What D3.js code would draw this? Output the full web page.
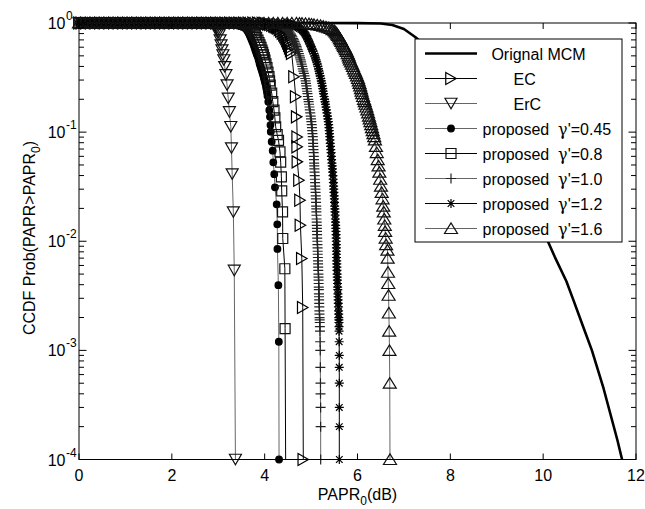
<!DOCTYPE html>
<html><head><meta charset="utf-8">
<script src="https://cdn.jsdelivr.net/npm/d3@7"></script>
<style>
body{margin:0;background:#fff}
svg{display:block}
text{font-family:"Liberation Sans",Arial,sans-serif;fill:#000}
</style>
</head><body>
<svg id="chart" width="645" height="509"></svg>
<script>
// ---------------- data ----------------
const xTickValues = [0, 2, 4, 6, 8, 10, 12];
const xTickLabels = ["0", "2", "4", "6", "8", "10", "12"];
const yTickValues = [1e-4, 1e-3, 1e-2, 1e-1, 1];
const yTickExponents = ["-4", "-3", "-2", "-1", "0"];
const legendLabels = ["  Orignal MCM", "       EC", "       ErC",
  "proposed  γ'=0.45", "proposed  γ'=0.8", "proposed  γ'=1.0",
  "proposed  γ'=1.2", "proposed  γ'=1.6"];

const origMCM = [[0,1],[5,1],[6,0.998],[6.5,0.99],[6.75,0.96],[7,0.88],[7.25,0.74],[7.5,0.6],[7.75,0.48],[8,0.37],[8.25,0.27],[8.5,0.19],[8.75,0.13],[9,0.087],[9.25,0.055],[9.5,0.034],[9.75,0.021],[10,0.0125],[10.25,0.0072],[10.5,0.0043],[10.65,0.0029],[10.85,0.0017],[11.05,0.001],[11.3,0.00045],[11.6,0.00015],[11.7,0.0001]];

const ecCurve = [[0,1],[0.05,1],[0.15,1],[0.25,1],[0.35,1],[0.45,1],[0.55,1],[0.65,1],[0.75,1],[0.85,1],[0.95,1],[1.05,1],[1.15,1],[1.25,1],[1.35,1],[1.45,1],[1.55,1],[1.65,1],[1.75,1],[1.85,1],[1.95,1],[2.05,1],[2.15,1],[2.25,1],[2.35,1],[2.45,1],[2.55,1],[2.65,1],[2.75,1],[2.85,1],[2.95,1],[3.05,1],[3.15,1],[3.25,1],[3.35,1],[3.45,1],[3.55,1],[3.65,1],[3.75,1],[3.85,1],
  [3.95,0.995],[3.99,0.99],[4.03,0.985],[4.072,0.977],[4.115,0.969],[4.158,0.955],[4.2,0.94],[4.225,0.93],[4.25,0.92],[4.268,0.91],[4.287,0.9],[4.318,0.87],[4.35,0.84],[4.383,0.808],[4.416,0.776],[4.438,0.748],[4.46,0.72],[4.48,0.687],[4.5,0.655],[4.52,0.622],[4.54,0.59],[4.561,0.558],[4.582,0.527],
  [4.632,0.322],[4.668,0.211],[4.69,0.138],[4.7,0.0904],[4.7,0.0733],[4.705,0.0534],[4.739,0.0363],[4.761,0.0238],[4.77,0.014],[4.8,0.00694],[4.82,0.00247],[4.832,0.0001]];

const ercCurve = [[0,1],[0.1,1],[0.2,1],[0.3,1],[0.4,1],[0.5,1],[0.6,1],[0.7,1],[0.8,1],[0.9,1],[1,1],[1.1,1],[1.2,1],[1.3,1],[1.4,1],[1.5,1],[1.6,1],[1.7,1],[1.8,1],[1.9,1],[2,1],[2.1,1],[2.2,1],[2.3,1],[2.4,1],[2.5,1],[2.6,1],[2.7,1],[2.8,1],
  [2.85,0.995],[2.875,0.99],[2.9,0.98],[2.925,0.958],[2.95,0.93],[2.97,0.898],[2.99,0.863],[3.003,0.82],[3.016,0.776],[3.04,0.698],[3.06,0.628],[3.08,0.565],[3.1,0.509],[3.12,0.458],[3.14,0.397],[3.165,0.334],[3.19,0.27],[3.215,0.204],[3.24,0.153],[3.27,0.112],
  [3.285,0.0713],[3.3,0.0412],[3.325,0.0185],[3.345,0.0054],[3.37,0.0001]];

const prop045 = [[0,1],[0.025,1],[0.125,1],[0.225,1],[0.325,1],[0.425,1],[0.525,1],[0.625,1],[0.725,1],[0.825,1],[0.925,1],[1.025,1],[1.125,1],[1.225,1],[1.325,1],[1.425,1],[1.525,1],[1.625,1],[1.725,1],[1.825,1],[1.925,1],[2.025,1],[2.125,1],[2.225,1],[2.325,1],[2.425,1],[2.525,1],[2.625,1],[2.725,1],[2.825,1],[2.925,1],[3.025,1],[3.125,1],[3.225,1],[3.325,1],
  [3.36,0.998],[3.392,0.995],[3.425,0.99],[3.447,0.98],[3.47,0.97],[3.49,0.96],[3.51,0.95],[3.532,0.935],[3.555,0.92],[3.578,0.905],[3.6,0.89],[3.62,0.86],[3.64,0.83],[3.662,0.795],[3.684,0.76],[3.7,0.735],[3.715,0.71],[3.731,0.682],[3.748,0.655],[3.764,0.627],[3.78,0.6],[3.796,0.57],[3.813,0.542],[3.831,0.515],[3.85,0.49],[3.869,0.46],[3.888,0.43],[3.901,0.412],[3.915,0.395],[3.928,0.379],[3.942,0.363],[3.956,0.346],[3.97,0.33],[3.983,0.315],[3.996,0.3],[4.008,0.287],[4.02,0.275],[4.03,0.262],[4.039,0.249],[4.05,0.232],[4.06,0.215],
  [4.078,0.19],[4.1,0.159],[4.115,0.138],[4.125,0.116],[4.132,0.101],[4.151,0.0816],[4.173,0.0676],[4.186,0.0529],[4.207,0.0412],[4.222,0.0312],[4.259,0.0218],[4.272,0.0143],[4.275,0.0085],[4.295,0.00396],[4.305,0.0012],[4.31,0.0001]];

const prop08 = [[0,1],[0.075,1],[0.175,1],[0.275,1],[0.375,1],[0.475,1],[0.575,1],[0.675,1],[0.775,1],[0.875,1],[0.975,1],[1.075,1],[1.175,1],[1.275,1],[1.375,1],[1.475,1],[1.575,1],[1.675,1],[1.775,1],[1.875,1],[1.975,1],[2.075,1],[2.175,1],[2.275,1],[2.375,1],[2.475,1],[2.575,1],[2.675,1],[2.775,1],[2.875,1],[2.975,1],[3.075,1],[3.175,1],[3.275,1],[3.375,1],
  [3.435,0.997],[3.47,0.99],[3.51,0.98],[3.55,0.97],[3.595,0.955],[3.64,0.94],[3.67,0.92],[3.7,0.9],[3.725,0.872],[3.75,0.845],[3.775,0.812],[3.8,0.78],[3.828,0.738],[3.856,0.698],[3.878,0.663],[3.9,0.63],[3.921,0.597],[3.942,0.565],[3.958,0.537],[3.975,0.51],[3.991,0.483],[4.007,0.458],[4.028,0.423],[4.05,0.39],[4.071,0.355],[4.093,0.322],[4.106,0.295],[4.12,0.27],
  [4.151,0.228],[4.175,0.19],[4.201,0.159],[4.22,0.135],[4.237,0.112],[4.27,0.095],[4.298,0.084],[4.33,0.0659],[4.345,0.0531],[4.36,0.0389],[4.367,0.0289],[4.385,0.0186],[4.39,0.0106],[4.435,0.0056],[4.44,0.00158],[4.455,0.00005]];

const prop10 = [[0,1],[0.035,1],[0.135,1],[0.235,1],[0.335,1],[0.435,1],[0.535,1],[0.635,1],[0.735,1],[0.835,1],[0.935,1],[1.035,1],[1.135,1],[1.235,1],[1.335,1],[1.435,1],[1.535,1],[1.635,1],[1.735,1],[1.835,1],[1.935,1],[2.035,1],[2.135,1],[2.235,1],[2.335,1],[2.435,1],[2.535,1],[2.635,1],[2.735,1],[2.835,1],[2.935,1],[3.035,1],[3.135,1],[3.235,1],[3.335,1],[3.435,1],[3.535,1],[3.635,1],[3.735,1],[3.835,1],[3.935,1],[4.035,1],
  [4.14,0.998],[4.179,0.995],[4.211,0.99],[4.244,0.985],[4.271,0.978],[4.298,0.97],[4.325,0.96],[4.352,0.95],[4.384,0.935],[4.416,0.92],[4.441,0.905],[4.466,0.89],[4.49,0.87],[4.513,0.85],[4.532,0.83],[4.55,0.81],[4.565,0.79],[4.58,0.77],[4.597,0.745],[4.614,0.72],[4.628,0.7],[4.642,0.68],[4.659,0.655],[4.675,0.63],[4.686,0.61],[4.696,0.59],[4.709,0.57],[4.722,0.55],[4.736,0.525],[4.75,0.5],[4.762,0.48],[4.774,0.46],[4.785,0.44],[4.796,0.42],[4.809,0.4],[4.821,0.38],[4.833,0.362],[4.845,0.345],[4.859,0.327],[4.873,0.31],[4.882,0.295],[4.89,0.28],[4.899,0.265],[4.907,0.25],[4.915,0.237],[4.922,0.225],[4.931,0.212],[4.94,0.2],[4.948,0.19],[4.955,0.18],[4.964,0.17],[4.972,0.16],[4.982,0.15],[4.991,0.14],[4.999,0.132],[5.006,0.125],[5.013,0.117],[5.019,0.11],[5.025,0.103],[5.03,0.097],[5.036,0.091],
  [5.041,0.085],[5.044,0.079],[5.047,0.074],[5.051,0.069],[5.055,0.065],[5.059,0.06],[5.062,0.056],[5.066,0.052],[5.069,0.049],[5.072,0.046],[5.075,0.043],[5.079,0.04],[5.083,0.037],[5.087,0.0345],[5.09,0.032],[5.094,0.03],[5.097,0.028],[5.1,0.026],[5.103,0.0245],[5.107,0.0227],[5.11,0.021],[5.112,0.0198],[5.114,0.0186],[5.116,0.0173],[5.118,0.016],[5.121,0.015],[5.123,0.014],[5.125,0.0131],[5.127,0.0123],[5.13,0.0115],[5.132,0.0107],[5.135,0.01],[5.137,0.0093],[5.14,0.0087],[5.142,0.0081],[5.144,0.0076],[5.146,0.0071],[5.149,0.0066],[5.151,0.0062],[5.153,0.0058],[5.155,0.0054],[5.158,0.005],[5.16,0.0047],[5.162,0.0044],[5.163,0.0041],[5.165,0.0038],[5.167,0.0036],[5.169,0.0033],[5.171,0.0031],[5.173,0.0029],[5.175,0.0027],[5.177,0.0025],[5.179,0.0023],[5.181,0.00215],[5.183,0.002],[5.185,0.0019],[5.187,0.0018],[5.19,0.00165],[5.192,0.0015],
  [5.195,0.0012],[5.198,0.001],[5.2,0.0007],[5.202,0.0005],[5.203,0.0004],[5.205,0.0003],[5.206,0.0002],[5.207,0.0001]];

const prop12 = [[0,1],[0.065,1],[0.165,1],[0.265,1],[0.365,1],[0.465,1],[0.565,1],[0.665,1],[0.765,1],[0.865,1],[0.965,1],[1.065,1],[1.165,1],[1.265,1],[1.365,1],[1.465,1],[1.565,1],[1.665,1],[1.765,1],[1.865,1],[1.965,1],[2.065,1],[2.165,1],[2.265,1],[2.365,1],[2.465,1],[2.565,1],[2.665,1],[2.765,1],[2.865,1],[2.965,1],[3.065,1],[3.165,1],[3.265,1],[3.365,1],[3.465,1],[3.565,1],[3.665,1],[3.765,1],[3.865,1],[3.965,1],[4.065,1],[4.165,1],[4.265,1],[4.365,1],
  [4.43,0.998],[4.459,0.995],[4.492,0.99],[4.524,0.985],[4.551,0.978],[4.578,0.97],[4.605,0.96],[4.632,0.95],[4.664,0.935],[4.696,0.92],[4.723,0.905],[4.75,0.89],[4.783,0.87],[4.815,0.85],[4.837,0.83],[4.858,0.81],[4.874,0.79],[4.89,0.77],[4.906,0.745],[4.922,0.72],[4.936,0.7],[4.95,0.68],[4.967,0.655],[4.983,0.63],[4.997,0.61],[5.011,0.59],[5.026,0.57],[5.041,0.55],[5.061,0.525],[5.08,0.5],[5.093,0.48],[5.106,0.46],[5.12,0.44],[5.134,0.42],[5.147,0.4],[5.16,0.38],[5.171,0.362],[5.181,0.345],[5.195,0.327],[5.209,0.31],[5.22,0.295],[5.231,0.28],[5.242,0.265],[5.252,0.25],[5.261,0.237],[5.269,0.225],[5.28,0.212],[5.291,0.2],[5.301,0.19],[5.31,0.18],[5.32,0.17],[5.33,0.16],[5.342,0.15],[5.353,0.14],[5.362,0.132],[5.371,0.125],[5.379,0.117],[5.386,0.11],[5.391,0.103],[5.396,0.097],[5.402,0.091],
  [5.407,0.085],[5.413,0.079],[5.418,0.074],[5.425,0.069],[5.431,0.065],[5.437,0.06],[5.442,0.056],[5.449,0.052],[5.455,0.049],[5.46,0.046],[5.465,0.043],[5.471,0.04],[5.476,0.037],[5.481,0.0345],[5.485,0.032],[5.489,0.03],[5.493,0.028],[5.498,0.026],[5.502,0.0245],[5.505,0.0227],[5.508,0.021],[5.512,0.0198],[5.515,0.0186],[5.519,0.0173],[5.523,0.016],[5.527,0.015],[5.53,0.014],[5.533,0.0131],[5.536,0.0123],[5.539,0.0115],[5.541,0.0107],[5.543,0.01],[5.544,0.0093],[5.546,0.0087],[5.547,0.0081],[5.548,0.0076],[5.549,0.0071],[5.552,0.0066],[5.554,0.0062],[5.556,0.0058],[5.558,0.0054],[5.561,0.005],[5.564,0.0047],[5.567,0.0044],[5.569,0.0041],[5.572,0.0038],[5.575,0.0036],[5.578,0.0033],[5.58,0.0031],[5.583,0.0029],[5.586,0.0027],[5.589,0.0025],[5.592,0.0023],[5.595,0.00215],[5.597,0.002],[5.599,0.0019],[5.601,0.0018],[5.602,0.00165],[5.603,0.0015],
  [5.605,0.0012],[5.607,0.0009],[5.607,0.0007],[5.608,0.0005],[5.608,0.0003],[5.608,0.0002],[5.608,0.0001]];

const prop16 = [[0,1],[0.085,1],[0.185,1],[0.285,1],[0.385,1],[0.485,1],[0.585,1],[0.685,1],[0.785,1],[0.885,1],[0.985,1],[1.085,1],[1.185,1],[1.285,1],[1.385,1],[1.485,1],[1.585,1],[1.685,1],[1.785,1],[1.885,1],[1.985,1],[2.085,1],[2.185,1],[2.285,1],[2.385,1],[2.485,1],[2.585,1],[2.685,1],[2.785,1],[2.885,1],[2.985,1],[3.085,1],[3.185,1],[3.285,1],[3.385,1],[3.485,1],[3.585,1],[3.685,1],[3.785,1],[3.885,1],[3.985,1],[4.085,1],[4.185,1],[4.285,1],[4.385,1],[4.485,1],[4.585,1],[4.685,1],
  [4.75,0.998],[4.804,0.995],[4.88,0.99],[4.955,0.985],[5.009,0.978],[5.062,0.97],[5.133,0.96],[5.203,0.95],[5.262,0.935],[5.321,0.92],[5.37,0.905],[5.418,0.89],[5.461,0.87],[5.504,0.85],[5.526,0.83],[5.547,0.81],[5.564,0.79],[5.58,0.77],[5.602,0.745],[5.623,0.72],[5.639,0.7],[5.655,0.68],[5.675,0.655],[5.694,0.63],[5.712,0.61],[5.73,0.59],[5.749,0.57],[5.767,0.55],[5.789,0.525],[5.81,0.5],[5.824,0.48],[5.838,0.46],[5.86,0.44],[5.881,0.42],[5.903,0.4],[5.924,0.38],[5.946,0.362],[5.967,0.345],[5.989,0.327],[6.01,0.31],[6.027,0.295],[6.043,0.28],[6.059,0.265],[6.075,0.25],[6.088,0.237],[6.101,0.225],[6.121,0.212],[6.14,0.2],[6.156,0.19],[6.172,0.18],[6.192,0.17],[6.211,0.16],[6.229,0.15],[6.247,0.14],[6.263,0.132],[6.279,0.125],[6.296,0.117],[6.312,0.11],[6.328,0.103],[6.344,0.097],[6.36,0.091],
  [6.376,0.085],[6.398,0.074],[6.415,0.065],[6.435,0.056],[6.454,0.049],[6.471,0.043],[6.489,0.037],[6.506,0.032],[6.521,0.028],[6.54,0.0245],[6.555,0.021],[6.566,0.0186],[6.577,0.016],[6.588,0.014],[6.596,0.0123],[6.607,0.0107],[6.616,0.0093],
  [6.645,0.0083],[6.65,0.007],[6.657,0.0052],[6.663,0.0041],[6.67,0.0032],[6.676,0.0022],[6.683,0.0015],[6.689,0.001],[6.695,0.0005],[6.7,0.0001]];

// ---------------- rendering ----------------
const svg = d3.select("#chart");
const mLeft = 79, mRight = 636, mTop = 23, mBottom = 459.5;
const x = d3.scaleLinear().domain([0, 12]).range([mLeft, mRight]);
const y = d3.scaleLog().domain([1e-4, 1]).range([mBottom, mTop]);

const GRAY = "#666", DARK = "#111";
const series = [
  {data: origMCM, line: "#000", width: 2.6, marker: null},
  {data: ecCurve, line: "#000", width: 1, marker: "triR", mcol: "#000"},
  {data: ercCurve, line: GRAY, width: 1, marker: "triD", mcol: DARK},
  {data: prop045, line: GRAY, width: 1, marker: "dot", mcol: "#000"},
  {data: prop08, line: "#000", width: 1, marker: "square", mcol: "#111"},
  {data: prop10, line: GRAY, width: 1, marker: "plus", mcol: "#222"},
  {data: prop12, line: "#000", width: 1, marker: "star", mcol: "#000"},
  {data: prop16, line: GRAY, width: 1, marker: "triU", mcol: DARK}
];

function markerPath(t) {
  const a = 6, h = 10.5;
  switch (t) {
    case "triR": return `M${-h/2},${-a}L${h/2},0L${-h/2},${a}Z`;
    case "triD": return `M${-a},${-h/2}L${a},${-h/2}L0,${h/2}Z`;
    case "triU": return `M${-6.5},${5}L${6.5},${5}L0,${-5.5}Z`;
    case "square": return "M-5,-5H5V5H-5Z";
    case "plus": return "M-5,0H5M0,-5V5";
    case "star": return "M-4.5,0H4.5M0,-4.5V4.5M-3.3,-3.3L3.3,3.3M-3.3,3.3L3.3,-3.3";
    case "dot": return "M-3.3,0A3.3,3.3 0 1,0 3.3,0A3.3,3.3 0 1,0 -3.3,0Z";
  }
}
function drawMarker(g, t, col) {
  g.append("path").attr("d", markerPath(t))
    .attr("fill", t === "dot" ? col : "none")
    .attr("stroke", col).attr("stroke-width", 1.2);
}

svg.append("defs").append("clipPath").attr("id", "plotclip")
  .append("rect").attr("x", mLeft).attr("y", mTop - 3)
  .attr("width", mRight - mLeft).attr("height", mBottom - mTop + 3);

const lineGen = d3.line().x(d => x(d[0])).y(d => y(d[1]));
const plot = svg.append("g");

series.forEach(s => {
  plot.append("path").datum(s.data).attr("d", lineGen)
    .attr("fill", "none").attr("stroke", s.line).attr("stroke-width", s.width)
    .attr("stroke-linejoin", "round")
    .attr("clip-path", "url(#plotclip)");
  if (s.marker) {
    const mg = plot.append("g");
    s.data.filter(d => d[1] >= 1e-4).forEach(d => {
      const g = mg.append("g").attr("transform", `translate(${x(d[0])},${y(d[1])})`);
      drawMarker(g, s.marker, s.mcol);
    });
  }
});

// axes box
svg.append("rect").attr("x", mLeft).attr("y", mTop)
  .attr("width", mRight - mLeft).attr("height", mBottom - mTop)
  .attr("fill", "none").attr("stroke", "#000").attr("stroke-width", 1);

// x ticks (inward, bottom and top) + labels
xTickValues.forEach((v, i) => {
  const px = x(v);
  svg.append("line").attr("x1", px).attr("x2", px).attr("y1", mBottom).attr("y2", mBottom - 6)
    .attr("stroke", "#000");
  svg.append("line").attr("x1", px).attr("x2", px).attr("y1", mTop).attr("y2", mTop + 6)
    .attr("stroke", "#000");
  svg.append("text").attr("x", px).attr("y", 481).attr("text-anchor", "middle")
    .attr("font-size", 16).text(xTickLabels[i]);
});

// y ticks: decades (major) and minor 2..9
yTickValues.forEach((v, i) => {
  const py = y(v);
  [[mLeft, mLeft + 7.5], [mRight, mRight - 7.5]].forEach(([a, b]) =>
    svg.append("line").attr("x1", a).attr("x2", b).attr("y1", py).attr("y2", py).attr("stroke", "#000"));
  svg.append("text").attr("x", 65.5).attr("y", py + 6).attr("text-anchor", "end")
    .attr("font-size", 16).text("10");
  svg.append("text").attr("x", 66).attr("y", py - 3).attr("font-size", 12).text(yTickExponents[i]);
  if (i < yTickValues.length - 1) {
    for (let k = 2; k <= 9; k++) {
      const pm = y(v * k);
      [[mLeft, mLeft + 5], [mRight, mRight - 5]].forEach(([a, b]) =>
        svg.append("line").attr("x1", a).attr("x2", b).attr("y1", pm).attr("y2", pm).attr("stroke", "#000"));
    }
  }
});

// axis titles
const xl = svg.append("text").attr("x", (mLeft + mRight) / 2).attr("y", 500)
  .attr("text-anchor", "middle").attr("font-size", 16);
xl.append("tspan").text("PAPR");
xl.append("tspan").attr("font-size", 12).attr("dy", 5).text("0");
xl.append("tspan").attr("dy", -5).text("(dB)");

const yl = svg.append("text").attr("transform", "translate(35,238) rotate(-90)")
  .attr("text-anchor", "middle").attr("font-size", 16);
yl.append("tspan").text("CCDF Prob(PAPR>PAPR");
yl.append("tspan").attr("font-size", 12).attr("dy", 5).text("0");
yl.append("tspan").attr("dy", -5).text(")");

// legend
const lg = svg.append("g");
lg.append("rect").attr("x", 415).attr("y", 39).attr("width", 207).attr("height", 203)
  .attr("fill", "#fff").attr("stroke", "#000").attr("stroke-width", 1);
series.forEach((s, i) => {
  const ry = 53.5 + 25 * i;
  lg.append("line").attr("x1", 425).attr("x2", 477).attr("y1", ry).attr("y2", ry)
    .attr("stroke", s.line).attr("stroke-width", s.width);
  if (s.marker) {
    const g = lg.append("g").attr("transform", `translate(451,${ry})`);
    drawMarker(g, s.marker, s.mcol);
  }
  const label = legendLabels[i];
  const t = lg.append("text").attr("x", 482.5).attr("y", ry + 6).attr("font-size", 16)
    .style("white-space", "pre");
  const gi = label.indexOf("γ");
  if (gi >= 0) {
    t.append("tspan").text(label.slice(0, gi));
    t.append("tspan").attr("font-family", "'DejaVu Serif',serif").text("γ");
    t.append("tspan").text(label.slice(gi + 1));
  } else {
    t.text(label);
  }
});
</script>
</body></html>
